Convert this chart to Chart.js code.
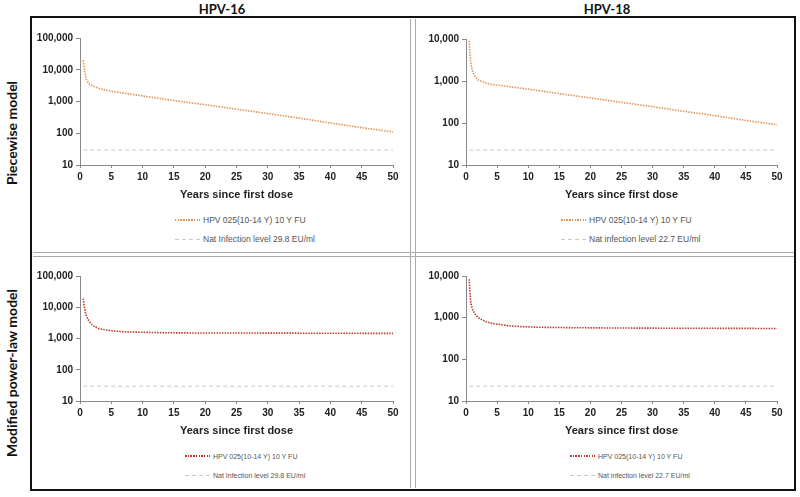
<!DOCTYPE html>
<html>
<head>
<meta charset="utf-8">
<script src="https://cdn.jsdelivr.net/npm/chart.js@4.4.0/dist/chart.umd.min.js"></script>
<style>
body { margin: 0; background: #fff; }
#wrap { position: relative; width: 800px; height: 497px; overflow: hidden; font-family: Lato, "Open Sans", sans-serif; }
.frame { position: absolute; left: 30px; top: 16px; width: 762px; height: 471px; border: 2.5px solid #111; }
.vdiv { position: absolute; left: 410px; top: 19px; width: 4px; height: 469px; border-left: 1.5px solid #aaa; border-right: 1.5px solid #aaa; }
.hdiv { position: absolute; left: 33px; top: 252px; width: 761px; height: 3px; border-top: 1.5px solid #aaa; border-bottom: 1.5px solid #aaa; }
.head { position: absolute; top: 1px; font-weight: bold; font-size: 13px; color: #111; transform: translateX(-50%); }
.rowlab { position: absolute; font-weight: bold; font-size: 14px; color: #111; white-space: nowrap; transform: translate(-50%, -50%) rotate(-90deg); }
canvas { position: absolute; }
.leg { position: absolute; font-family: "Liberation Sans", Arial, sans-serif; color: #555; white-space: nowrap; display: flex; align-items: center; }
.leg span.s { display: inline-block; width: 25px; margin-right: 3px; }
</style>
</head>
<body>
<div id="wrap">
  <div class="head" style="left:222px">HPV-16</div>
  <div class="head" style="left:607px">HPV-18</div>
  <div class="rowlab" style="left:11px; top:133px">Piecewise model</div>
  <div class="rowlab" style="left:11px; top:373px">Modified power-law model</div>
  <div class="frame"></div>
  <div class="vdiv"></div>
  <div class="hdiv"></div>
</div>
<script>
// values (GMT, EU/ml) by years since first dose
const pieceYears = [0.5, 0.75, 1, 1.5, 2, 3, 4, 5, 10, 15, 20, 25, 30, 35, 40, 45, 50];
const piece16 = [20000, 9000, 5000, 3500, 3100, 2600, 2300, 2100, 1500, 1070, 790, 575, 415, 300, 210, 150, 110];
const piece18 = [9000, 2800, 1800, 1250, 1050, 920, 830, 800, 640, 500, 395, 310, 245, 190, 150, 115, 91];

const powerYears = [0.5, 0.75, 1, 1.5, 2, 3, 4, 5, 7, 10, 15, 20, 30, 40, 50];
const power16 = [19000, 9000, 5500, 3500, 2700, 2100, 1900, 1780, 1650, 1580, 1520, 1500, 1490, 1470, 1460];
const power18 = [8300, 2500, 1700, 1200, 1000, 830, 740, 700, 640, 600, 580, 570, 560, 555, 550];

const natYears = [0.5, 50];
const nat16 = [29.8, 29.8];
const nat18 = [22.7, 22.7];

const xTicks = [0, 5, 10, 15, 20, 25, 30, 35, 40, 45, 50];
const yTicks16 = [10, 100, 1000, 10000, 100000];
const yTicks18 = [10, 100, 1000, 10000];

const curveLabel = 'HPV 025(10-14 Y) 10 Y FU';
const nat16Label = 'Nat Infection level 29.8 EU/ml';
const nat18Label = 'Nat infection level 22.7 EU/ml';

const pts = (xs, ys) => xs.map((x, i) => ({ x: x, y: ys[i] }));

const orange = '#e39455', red = '#c0392b', grey = '#c8c8c8';

const panels = [
  { years: pieceYears, vals: piece16, nat: nat16, natLabel: nat16Label, yTicks: yTicks16, color: orange, smooth: false,
    axisX: 80, right: 393, top: 37, bottom: 165, legX: 175, legY: [220, 239], legFont: 8.5 },
  { years: pieceYears, vals: piece18, nat: nat18, natLabel: nat18Label, yTicks: yTicks18, color: orange, smooth: false,
    axisX: 466, right: 777, top: 38, bottom: 165, legX: 561, legY: [220, 239], legFont: 8.5 },
  { years: powerYears, vals: power16, nat: nat16, natLabel: nat16Label, yTicks: yTicks16, color: red, smooth: true,
    axisX: 80, right: 393, top: 275, bottom: 401, legX: 185, legY: [456, 475], legFont: 7 },
  { years: powerYears, vals: power18, nat: nat18, natLabel: nat18Label, yTicks: yTicks18, color: red, smooth: true,
    axisX: 466, right: 777, top: 275, bottom: 401, legX: 570, legY: [456, 475], legFont: 7 }
];

const wrap = document.getElementById('wrap');
const tickFont = { family: 'Liberation Sans', weight: 'bold', size: 10 };
const Y_W = 48, X_H = 39, PAD_T = 8, PAD_R = 10;

panels.forEach(p => {
  const cv = document.createElement('canvas');
  const left = p.axisX - Y_W, top = p.top - PAD_T;
  const w = p.right + PAD_R - left, h = p.bottom - p.top + PAD_T + X_H;
  cv.width = w; cv.height = h;
  cv.style.left = left + 'px'; cv.style.top = top + 'px';
  cv.style.width = w + 'px'; cv.style.height = h + 'px';
  wrap.appendChild(cv);

  const datasets = [
    { label: curveLabel, data: pts(p.years, p.vals), borderColor: p.color, borderWidth: 1.6,
      borderDash: [1.5, 1.2], pointRadius: 0, tension: 0,
      cubicInterpolationMode: p.smooth ? 'monotone' : 'default' },
    { label: p.natLabel, data: pts(natYears, p.nat), borderColor: grey, borderWidth: 1,
      borderDash: [4, 3], pointRadius: 0 }
  ];

  new Chart(cv, {
    type: 'line',
    data: { datasets: datasets },
    options: {
      responsive: false,
      animation: false,
      layout: { padding: { top: PAD_T, right: PAD_R, left: 0, bottom: 0 } },
      plugins: { legend: { display: false }, tooltip: { enabled: false } },
      scales: {
        x: {
          type: 'linear', min: 0, max: 50,
          afterBuildTicks: s => { s.ticks = xTicks.map(v => ({ value: v })); },
          ticks: { font: tickFont, color: '#222', padding: 3, maxRotation: 0 },
          grid: { drawOnChartArea: false, tickLength: 3, color: '#888' },
          border: { color: '#888' },
          title: { display: true, text: 'Years since first dose', color: '#222',
                   font: { family: 'Liberation Sans', weight: 'bold', size: 11 }, padding: { top: 0, bottom: 2 } },
          afterFit: s => { s.height = X_H; }
        },
        y: {
          type: 'logarithmic', min: 10, max: p.yTicks[p.yTicks.length - 1],
          afterBuildTicks: s => { s.ticks = p.yTicks.map(v => ({ value: v })); },
          ticks: { font: tickFont, color: '#222', padding: 3, callback: v => Number(v).toLocaleString('en-US') },
          grid: { drawOnChartArea: false, tickLength: 4, color: '#888' },
          border: { color: '#888' },
          afterFit: s => { s.width = Y_W; }
        }
      }
    }
  });

  // legend rows under each panel, built from the datasets
  datasets.forEach((ds, i) => {
    const row = document.createElement('div');
    row.className = 'leg';
    row.style.left = p.legX + 'px';
    row.style.top = (p.legY[i] - 6) + 'px';
    row.style.height = '12px';
    row.style.fontSize = p.legFont + 'px';
    const s = document.createElement('span');
    s.className = 's';
    const on = ds.borderDash[0], gap = ds.borderDash[1];
    s.style.height = (i === 0 ? 2 : 1) + 'px';
    s.style.background = 'repeating-linear-gradient(to right, ' + ds.borderColor + ' 0 ' + on + 'px, transparent ' + on + 'px ' + (on + gap) + 'px)';
    row.appendChild(s);
    row.appendChild(document.createTextNode(ds.label));
    wrap.appendChild(row);
  });
});
</script>
</body>
</html>
